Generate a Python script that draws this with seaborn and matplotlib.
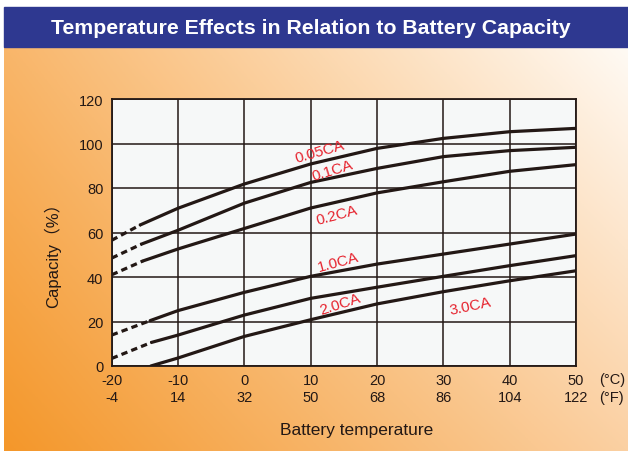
import numpy as np
import pandas as pd
import matplotlib.pyplot as plt
import matplotlib.colors as mcolors
import seaborn as sns

# Data (temperature in C, capacity in %)
rates = ["0.05CA", "0.1CA", "0.2CA", "1.0CA", "2.0CA", "3.0CA"]
temps = [-10, 0, 10, 20, 30, 40, 50]
cap_005 = [70.9, 81.8, 90.8, 97.8, 102.3, 105.3, 106.8]
cap_01 = [61.0, 73.2, 82.5, 88.8, 94.1, 96.8, 98.3]
cap_02 = [52.6, 61.8, 71.0, 77.8, 82.8, 87.5, 90.5]
cap_10 = [24.9, 33.1, 40.3, 45.8, 50.3, 54.8, 59.3]
cap_20 = [13.9, 22.9, 30.4, 35.4, 40.3, 45.1, 49.6]
cap_30 = [3.6, 13.3, 20.8, 27.9, 33.4, 38.3, 42.8]
# where each solid curve begins (temp, capacity)
start_t = [-15.7, -15.5, -15.3, -14.2, -14.0, -14.1]
start_c = [63.4, 54.8, 47.2, 20.4, 10.6, 0.0]
# dashed extrapolation value at -20 C (None = no dashed part)
extrap_c = [56.5, 48.5, 41.0, 13.9, 3.4, None]

# label positions / angles
label_t = [11.4, 13.2, 13.9, 14.1, 14.4, 34.0]
label_c = [96.5, 88.0, 68.2, 46.9, 27.8, 27.0]
label_rot = [16, 17, 15, 15, 18, 12]

ticks_c = [-20, -10, 0, 10, 20, 30, 40, 50]
ticks_f = [-4, 14, 32, 50, 68, 86, 104, 122]
yticks = [0, 20, 40, 60, 80, 100, 120]

curves = [cap_005, cap_01, cap_02, cap_10, cap_20, cap_30]

sns.set_style("white")
plt.rcParams["font.family"] = ["Liberation Sans", "Noto Sans CJK SC", "DejaVu Sans"]

line_col = "#231815"
red = "#E6232E"

fig = plt.figure(figsize=(6.28, 4.52), dpi=100)
fig.patch.set_facecolor("white")

# gradient background (orange bottom-left -> near white top-right)
bg = fig.add_axes([4 / 628, 0, 1 - 4 / 628, 404 / 452])
bg.set_axis_off()
bl = np.array(mcolors.to_rgb("#F4972A"))
tl = np.array(mcolors.to_rgb("#F9B66A"))
br = np.array(mcolors.to_rgb("#FBD0A2"))
tr = np.array(mcolors.to_rgb("#FFFAF4"))
u = np.linspace(0, 1, 200)[None, :, None]
v = np.linspace(0, 1, 150)[:, None, None]
grad = (1 - v) * ((1 - u) * tl + u * tr) + v * ((1 - u) * bl + u * br)
bg.imshow(grad, aspect="auto", extent=[0, 1, 0, 1])

# title bar
fig.patches.append(plt.Rectangle((4 / 628, 404 / 452), 1, 40 / 452,
                                 transform=fig.transFigure, color="#2E3890", zorder=2))
fig.text(51 / 628, (452 - 28) / 452, "Temperature Effects in Relation to Battery Capacity",
         color="white", fontsize=15.3, fontweight="bold", ha="left", va="center", zorder=3)

ax = fig.add_axes([111.7 / 628, 85 / 452, (576 - 111.7) / 628, (367 - 100) / 452])
ax.set_facecolor("#F6F8F8")

for i, name in enumerate(rates):
    df = pd.DataFrame({"t": [start_t[i]] + temps, "c": [start_c[i]] + curves[i]})
    sns.lineplot(data=df, x="t", y="c", ax=ax, color=line_col, lw=2.3,
                 estimator=None, sort=False, zorder=3)
    if extrap_c[i] is not None:
        dd = pd.DataFrame({"t": [-20, start_t[i]], "c": [extrap_c[i], start_c[i]]})
        sns.lineplot(data=dd, x="t", y="c", ax=ax, color=line_col, lw=2.3,
                     linestyle=(0, (2.0, 1.3)), estimator=None, sort=False, zorder=3)
    ax.text(label_t[i], label_c[i], name, color=red, fontsize=11,
            rotation=label_rot[i], ha="center", va="center", zorder=4)

ax.set_xlim(-20, 50)
ax.set_ylim(0, 120)
ax.set_xticks(ticks_c)
ax.set_xticklabels([f"{c}\n{f}" for c, f in zip(ticks_c, ticks_f)], linespacing=1.3)
ax.set_yticks(yticks)
ax.grid(True, color=line_col, lw=1.1)
for s in ax.spines.values():
    s.set_color(line_col)
    s.set_linewidth(1.3)
ax.tick_params(axis="both", length=0, labelsize=10.5, colors="#231815")
ax.tick_params(axis="x", pad=5)
ax.tick_params(axis="y", pad=6)
ax.set_xlabel("")
ax.set_ylabel("")

fig.text(599 / 628, (452 - 380) / 452, "(°C)", fontsize=10.5, ha="left", va="center", color=line_col)
fig.text(599 / 628, (452 - 398) / 452, "(°F)", fontsize=10.5, ha="left", va="center", color=line_col)
fig.text(357 / 628, (452 - 431) / 452, "Battery temperature", fontsize=12.5,
         ha="center", va="center", color=line_col)
fig.text(52 / 628, (452 - 251) / 452, "Capacity（%）", fontsize=12, rotation=90,
         ha="center", va="center", color=line_col)

fig.savefig("out.png", dpi=100)
